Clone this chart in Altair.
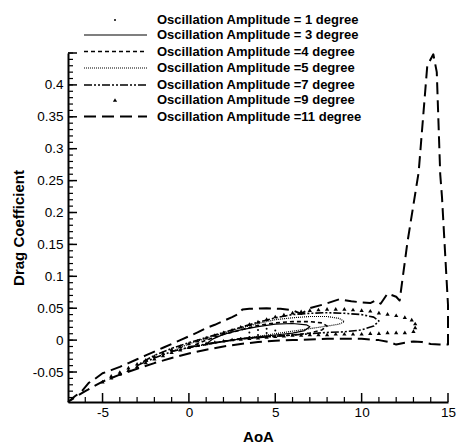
import altair as alt
import pandas as pd

# ---------------- data ----------------
AMP1_AOA = [3.0, 3.5, 4.0, 4.5, 5.0, 4.5, 4.0, 3.5]
AMP1_CD = [0.003, 0.005, 0.008, 0.011, 0.015, 0.018, 0.016, 0.012]

AMP3_AOA = [1, 2, 3, 4, 5, 6, 6.7, 7, 6.8, 6, 5, 4, 3, 2, 1.4, 1]
AMP3_CD = [-0.006, -0.002, 0.002, 0.005, 0.008, 0.011, 0.015, 0.021, 0.024, 0.026,
           0.025, 0.021, 0.016, 0.009, 0.002, -0.006]

AMP4_AOA = [0, 1, 2, 3, 4, 5, 6, 7, 7.7, 8, 7.7, 7, 6, 5, 4, 3, 2, 1, 0.4, 0]
AMP4_CD = [-0.012, -0.007, -0.002, 0.002, 0.004, 0.006, 0.008, 0.011, 0.016, 0.022,
           0.027, 0.029, 0.029, 0.027, 0.023, 0.016, 0.009, 0.0, -0.007, -0.012]

AMP5_AOA = [-1, 0, 1, 2, 3, 4, 5, 6, 7, 8, 8.7, 9, 8.7, 8, 7, 6, 5, 4, 3, 2, 1, 0, -0.6, -1]
AMP5_CD = [-0.018, -0.012, -0.007, -0.002, 0.002, 0.006, 0.010, 0.014, 0.018, 0.022,
           0.025, 0.029, 0.034, 0.037, 0.037, 0.035, 0.032, 0.026, 0.019, 0.011,
           0.003, -0.006, -0.013, -0.018]

AMP7_AOA = [-3, -2, -1, 0, 1, 2, 3, 4, 5, 6, 7, 8, 9, 10, 10.7, 11,
            10.7, 10, 9, 8, 7, 6, 5, 4, 3, 2, 1, 0, -1, -2, -2.6, -3]
AMP7_CD = [-0.040, -0.028, -0.018, -0.011, -0.006, -0.002, 0.002, 0.004, 0.006, 0.008,
           0.010, 0.012, 0.013, 0.016, 0.022, 0.030,
           0.036, 0.040, 0.042, 0.043, 0.042, 0.040, 0.035, 0.028, 0.020, 0.012,
           0.004, -0.004, -0.013, -0.024, -0.033, -0.040]

AMP9_AOA = [-5, -4.5, -4, -3.5, -3, -2.5, -2, -1.5, -1, -0.5, 0, 0.5, 1, 1.5, 2, 2.5,
            3, 3.5, 4, 4.5, 5, 5.5, 6, 6.5, 7, 7.5, 8, 8.5, 9, 9.5, 10, 10.5, 11,
            11.5, 12, 12.5, 13, 13.1, 13.1,
            12.9, 12.5, 12, 11.5, 11, 10.5, 10, 9.5, 9, 8.5, 8, 7.5, 7, 6.5, 6, 5.5,
            5, 4.5, 4, 3.5, 3, 2.5, 2, 1.5, 1, 0.5, 0, -0.5, -1, -1.5, -2, -2.5, -3,
            -3.5, -4, -4.5]
AMP9_CD = [-0.065, -0.059, -0.053, -0.047, -0.041, -0.035, -0.029, -0.024, -0.019,
           -0.015, -0.011, -0.008, -0.005, -0.003, -0.001, 0.001, 0.002, 0.003, 0.004,
           0.005, 0.006, 0.007, 0.008, 0.008, 0.009, 0.009, 0.009, 0.010, 0.010, 0.010,
           0.010, 0.011, 0.011, 0.012, 0.012, 0.012, 0.014, 0.020, 0.026,
           0.032, 0.036, 0.039, 0.041, 0.043, 0.046, 0.047, 0.048, 0.049, 0.049, 0.049,
           0.048, 0.047, 0.045, 0.043, 0.040, 0.037, 0.033, 0.029, 0.025, 0.021, 0.016,
           0.012, 0.008, 0.004, -0.001, -0.005, -0.0095, -0.014, -0.020, -0.025,
           -0.031, -0.037, -0.043, -0.050, -0.056]

AMP11_AOA = [-7, -6.6, -6.2, -5.8, -5.5, -5, -4.5, -4, -3.5, -3, -2.5, -2, -1.5, -1,
             -0.5, 0, 0.5, 1, 1.5, 2, 2.5, 2.8, 3.1, 3.5, 4.5, 5.3, 6, 6.5, 7, 7.8,
             8.7, 9.4, 10, 10.5, 10.8, 11.1, 11.5, 12, 12.2, 12.65, 13.3, 13.8, 14.15,
             14.35, 14.55, 14.65, 15, 15,
             14.5, 14, 13.5, 13, 12.5, 12, 11.6, 11, 10, 9, 8, 7, 6, 5, 4, 3, 2, 1, 0,
             -1, -2, -3, -4, -5, -6, -6.5, -7]
AMP11_CD = [-0.097, -0.088, -0.080, -0.067, -0.062, -0.052, -0.047, -0.042, -0.036,
            -0.030, -0.024, -0.018, -0.012, -0.006, 0.000, 0.006, 0.012, 0.019, 0.024,
            0.030, 0.036, 0.040, 0.048, 0.049, 0.050, 0.049, 0.047, 0.041, 0.050, 0.056,
            0.064, 0.061, 0.059, 0.058, 0.062, 0.057, 0.073, 0.068, 0.062, 0.153, 0.263,
            0.430, 0.448, 0.420, 0.260, 0.225, 0.055, -0.007,
            -0.007, -0.006, -0.003, -0.002, -0.004, -0.007, -0.003, 0.000, 0.002, 0.002,
            0.002, 0.001, 0.000, -0.001, -0.003, -0.006, -0.010, -0.015, -0.021, -0.028,
            -0.036, -0.045, -0.054, -0.065, -0.080, -0.088, -0.097]

LEGEND_LABELS = [
    "Oscillation Amplitude = 1 degree",
    "Oscillation Amplitude = 3 degree",
    "Oscillation Amplitude =4 degree",
    "Oscillation Amplitude =5 degree",
    "Oscillation Amplitude =7 degree",
    "Oscillation Amplitude =9 degree",
    "Oscillation Amplitude =11 degree",
]

X_MAJOR = [-5, 0, 5, 10, 15]
X_MINOR = [-6, -4, -3, -2, -1, 1, 2, 3, 4, 6, 7, 8, 9, 11, 12, 13, 14]
Y_LABELS = [-0.05, 0, 0.05, 0.1, 0.15, 0.2, 0.25, 0.3, 0.35, 0.4]
Y_MAJOR = [-0.05, 0, 0.05, 0.1, 0.15, 0.2, 0.25, 0.3, 0.35, 0.4, 0.45]
Y_MINOR = [round(-0.09 + 0.01 * i, 2) for i in range(55)]

# ---------------- layout ----------------
W, H = 380, 349
FONT = "Liberation Sans"
XDOM = [-7, 15]
YDOM = [-0.097, 0.45]

xs = alt.Scale(domain=XDOM, nice=False, zero=False)
ys = alt.Scale(domain=YDOM, nice=False, zero=False)


def frame(a, c):
    return pd.DataFrame({"aoa": a, "cd": c, "i": list(range(len(a)))})


XAX = alt.Axis(values=X_MAJOR, ticks=False, grid=False, domainColor="black",
               domainWidth=2, labelFont=FONT, labelFontSize=13.5, labelColor="black",
               labelPadding=3, labelExpr="toString(datum.value)",
               labelOverlap=False, labelFlush=False,
               titleFont=FONT, titleFontSize=15, titleFontWeight="bold",
               titleColor="black", titleY=39, titleBaseline="alphabetic")
YAX = alt.Axis(values=Y_LABELS, ticks=False, grid=False, domainColor="black",
               domainWidth=2, labelFont=FONT, labelFontSize=13.5, labelColor="black",
               labelPadding=5,
               labelExpr="toString(round(datum.value*100)/100)",
               labelOverlap=False, labelFlush=False,
               titleFont=FONT, titleFontSize=15, titleFontWeight="bold",
               titleColor="black", titleX=-45, titleBaseline="alphabetic")
X = alt.X("aoa:Q", scale=xs, title="AoA", axis=XAX)
Y = alt.Y("cd:Q", scale=ys, title="Drag Coefficient", axis=YAX)


def line(a, c, width, dash=None):
    kw = dict(color="black", strokeWidth=width, strokeJoin="round")
    if dash:
        kw["strokeDash"] = dash
    return alt.Chart(frame(a, c)).mark_line(**kw).encode(x=X, y=Y, order="i:Q")


l11 = line(AMP11_AOA, AMP11_CD, 2, [12, 6])
l3 = line(AMP3_AOA, AMP3_CD, 1.2)
l4 = line(AMP4_AOA, AMP4_CD, 1.6, [4, 3])
l5 = line(AMP5_AOA, AMP5_CD, 1.2, [1, 1])
l7 = line(AMP7_AOA, AMP7_CD, 1.6, [8, 2, 2, 2, 2, 2])
p1 = alt.Chart(frame(AMP1_AOA, AMP1_CD)).mark_point(
    shape="circle", filled=True, size=4, color="black", opacity=1).encode(x=X, y=Y)
p9 = alt.Chart(frame(AMP9_AOA, AMP9_CD)).mark_point(
    shape="triangle-up", filled=True, size=18, color="black", opacity=1).encode(x=X, y=Y)

# inward ticks (tick positions go through the same scales)
xmaj = alt.Chart(pd.DataFrame({"aoa": X_MAJOR})).mark_rule(color="black", strokeWidth=1.5).encode(
    x=X, y=alt.value(H), y2=alt.value(H - 9))
xmin = alt.Chart(pd.DataFrame({"aoa": X_MINOR})).mark_rule(color="black", strokeWidth=1.2).encode(
    x=X, y=alt.value(H), y2=alt.value(H - 5))
ymaj = alt.Chart(pd.DataFrame({"cd": Y_MAJOR})).mark_rule(color="black", strokeWidth=1.5).encode(
    y=Y, x=alt.value(0), x2=alt.value(9))
ymin = alt.Chart(pd.DataFrame({"cd": Y_MINOR})).mark_rule(color="black", strokeWidth=1.2).encode(
    y=Y, x=alt.value(0), x2=alt.value(5))

# legend
LEG_Y = [-33, -18, -1.5, 15, 32, 47, 63.5]
one = pd.DataFrame({"k": [0]})
leg = []
for lab, yy in zip(LEGEND_LABELS, LEG_Y):
    leg.append(alt.Chart(one).mark_text(align="left", baseline="middle", font=FONT,
                                        fontSize=13, fontWeight="bold", color="black").encode(
        x=alt.value(89), y=alt.value(yy), text=alt.value(lab)))
leg.append(alt.Chart(one).mark_point(shape="circle", filled=True, size=4, color="black",
                                     opacity=1).encode(x=alt.value(47), y=alt.value(LEG_Y[0])))
leg.append(alt.Chart(one).mark_rule(color="black", strokeWidth=1.2).encode(
    x=alt.value(16), x2=alt.value(79), y=alt.value(LEG_Y[1])))
leg.append(alt.Chart(one).mark_rule(color="black", strokeWidth=1.6, strokeDash=[4, 3]).encode(
    x=alt.value(16), x2=alt.value(79), y=alt.value(LEG_Y[2])))
leg.append(alt.Chart(one).mark_rule(color="black", strokeWidth=1.2, strokeDash=[1, 1]).encode(
    x=alt.value(16), x2=alt.value(79), y=alt.value(LEG_Y[3])))
leg.append(alt.Chart(one).mark_rule(color="black", strokeWidth=1.6,
                                    strokeDash=[8, 2, 2, 2, 2, 2]).encode(
    x=alt.value(16), x2=alt.value(79), y=alt.value(LEG_Y[4])))
leg.append(alt.Chart(one).mark_point(shape="triangle-up", filled=True, size=18, color="black",
                                     opacity=1).encode(x=alt.value(47), y=alt.value(LEG_Y[5])))
leg.append(alt.Chart(one).mark_rule(color="black", strokeWidth=2, strokeDash=[12, 6]).encode(
    x=alt.value(16), x2=alt.value(79), y=alt.value(LEG_Y[6])))

chart = alt.layer(l11, l3, l4, l5, l7, p1, p9, xmaj, xmin, ymaj, ymin, *leg).properties(
    width=W, height=H,
    autosize=alt.AutoSizeParams(type="none"),
    padding={"left": 68, "top": 53, "right": 9, "bottom": 41},
    background="white",
).configure_view(stroke=None)

chart.save("out.html", embed_options={"renderer": "svg", "actions": False})
